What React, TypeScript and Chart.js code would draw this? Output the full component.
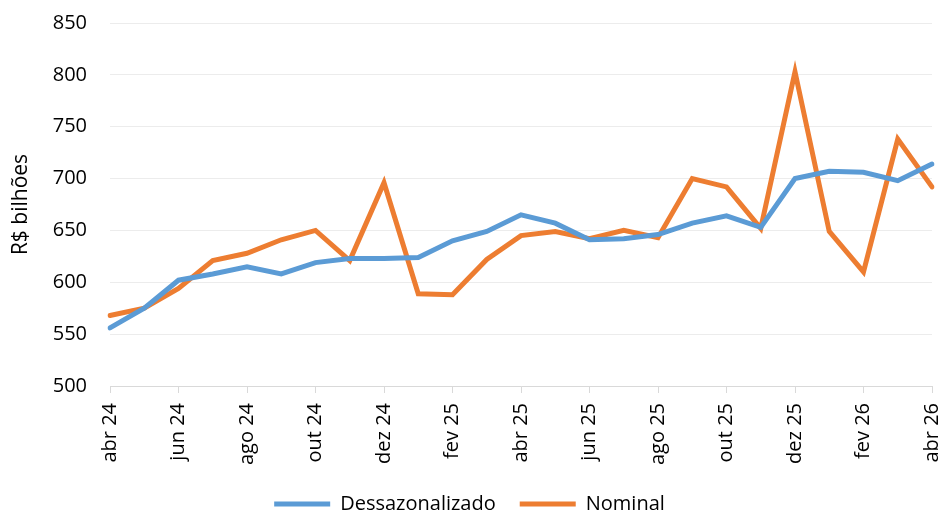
import React, { useEffect, useRef } from "react";
import { Chart, registerables } from "chart.js";

Chart.register(...registerables);

const months = [
  "abr 24", "mai 24", "jun 24", "jul 24", "ago 24", "set 24", "out 24", "nov 24", "dez 24",
  "jan 25", "fev 25", "mar 25", "abr 25", "mai 25", "jun 25", "jul 25", "ago 25", "set 25",
  "out 25", "nov 25", "dez 25", "jan 26", "fev 26", "mar 26", "abr 26",
];
const dessazonalizado = [556, 575, 602, 608, 615, 608, 619, 623, 623, 624, 640, 649, 665, 657, 641, 642, 646, 657, 664, 653, 700, 707, 706, 698, 714];
const nominal = [568, 575, 594, 621, 628, 641, 650, 621, 696, 589, 588, 622, 645, 649, 642, 650, 643, 700, 692, 652, 803, 649, 610, 738, 692];

const FONT = "'Open Sans', sans-serif";

export default function App() {
  const ref = useRef<HTMLCanvasElement | null>(null);
  useEffect(() => {
    document.body.style.margin = "0";
    const canvas = ref.current!;
    const chart = new Chart(canvas, {
      type: "line",
      data: {
        labels: months,
        datasets: [
          {
            label: "Dessazonalizado",
            data: dessazonalizado,
            borderColor: "#5B9BD5",
            backgroundColor: "#5B9BD5",
            borderWidth: 5,
            pointRadius: 0,
            tension: 0,
            borderCapStyle: "round",
          },
          {
            label: "Nominal",
            data: nominal,
            borderColor: "#ED7D31",
            backgroundColor: "#ED7D31",
            borderWidth: 5,
            pointRadius: 0,
            tension: 0,
            borderCapStyle: "round",
          },
        ],
      },
      options: {
        responsive: false,
        animation: false,
        layout: { padding: { top: 23, left: 0, right: 0, bottom: -11 } },
        plugins: {
          tooltip: { enabled: false },
          legend: {
            position: "bottom",
            labels: {
              usePointStyle: true,
              pointStyle: "line",
              pointStyleWidth: 56,
              boxWidth: 56,
              boxHeight: 20,
              padding: 24,
              color: "#000",
              font: { family: FONT, size: 20 },
            },
          },
        },
        scales: {
          x: {
            grid: {
              drawOnChartArea: false,
              drawTicks: true,
              tickLength: 7,
              tickColor: (ctx: any) => (ctx.index % 2 === 0 ? "#d9d9d9" : "rgba(0,0,0,0)"),
            },
            border: { color: "#d9d9d9", width: 1 },
            ticks: {
              autoSkip: false,
              maxRotation: 90,
              minRotation: 90,
              padding: 10,
              color: "#000",
              font: { family: FONT, size: 20 },
              callback: (_v: any, i: number) => (i % 2 === 0 ? months[i] : ""),
            },
            afterFit: (scale: any) => {
              scale.height = 84;
              scale.paddingLeft = 0;
              scale.paddingRight = 7;
            },
          },
          y: {
            min: 500,
            max: 850,
            grid: { color: "#ececec", lineWidth: 1, drawTicks: false },
            border: { display: false },
            ticks: {
              stepSize: 50,
              padding: 23,
              color: "#000",
              font: { family: FONT, size: 20 },
            },
            title: {
              display: true,
              text: "R$ bilhões",
              color: "#000",
              font: { family: FONT, size: 21 },
              padding: { top: 8, bottom: 0 },
            },
            afterFit: (scale: any) => {
              scale.width = 110;
              scale.paddingTop = 0;
              scale.paddingBottom = 0;
            },
          },
        },
      },
    });
    return () => chart.destroy();
  }, []);
  return (
    <div style={{ width: 939, height: 513 }}>
      <canvas ref={ref} width={939} height={513} style={{ display: "block" }} />
    </div>
  );
}
